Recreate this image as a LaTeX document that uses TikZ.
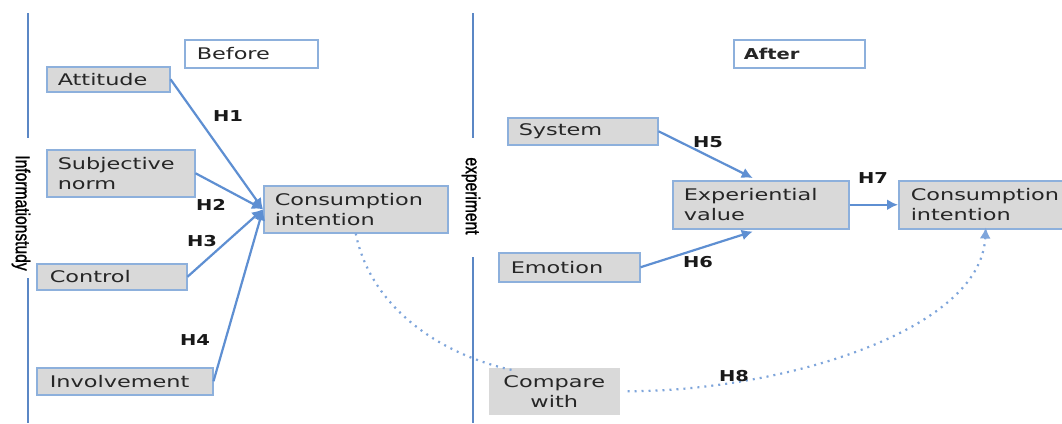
\documentclass[tikz,border=0pt]{standalone}
\usepackage{fontspec}
\setmainfont[FakeStretch=1.4]{DejaVu Sans}
\newfontfamily\lblfamily[FakeStretch=1.3]{DejaVu Sans}
\newfontfamily\narrowfamily[FakeStretch=0.78,FakeBold=1.2]{Liberation Sans}
\usetikzlibrary{arrows.meta}
\definecolor{boxfill}{HTML}{D9D9D9}
\definecolor{boxedge}{HTML}{8DB0DC}
\definecolor{arrowblue}{HTML}{5E8FD2}
\definecolor{lineblue}{HTML}{5B87C5}
\tikzset{
  bx/.style={draw=boxedge, fill=boxfill, line width=1.5pt, anchor=north west,
    inner xsep=11pt, inner ysep=0pt, align=left, text=black!85,
    font=\fontsize{16}{20}\selectfont},
  wbx/.style={bx, fill=white},
  lbl/.style={font=\lblfamily\bfseries\fontsize{15}{18}\selectfont, text=black!90, inner sep=0pt},
  vtxt/.style={font=\narrowfamily\fontsize{20}{22}\selectfont, rotate=-90, inner sep=0pt},
  arr/.style={draw=arrowblue, line width=2.2pt, -{Latex[length=11pt,width=11pt]}},
  dot/.style={draw=arrowblue!80, line width=2.2pt, dash pattern=on 2pt off 5pt},
  sep/.style={draw=lineblue, line width=2.5pt},
}
\begin{document}
\begin{tikzpicture}[x=1pt,y=-1pt]
\useasboundingbox[fill=white] (0,0) rectangle (1062,423);
% separators
\draw[sep] (28,13) -- (28,138);
\draw[sep] (28,278) -- (28,423);
\draw[sep] (473,13) -- (473,138);
\draw[sep] (473,257) -- (473,423);
\node[vtxt] (info) at (21,213) {Informationstudy};
\node[vtxt] (expt) at (471,196) {experiment};
% left boxes
\node[wbx, inner xsep=12pt, text width=109pt, minimum height=28pt] (before) at (184,39) {Before};
\node[bx, text width=101pt, minimum height=25pt] (att) at (46,66) {Attitude};
\node[bx, text width=126pt, minimum height=47pt] (subj) at (46,149) {Subjective\\norm};
\node[bx, inner xsep=13pt, text width=124pt, minimum height=26pt] (ctrl) at (36,263) {Control};
\node[bx, inner xsep=13pt, text width=150pt, minimum height=27pt] (inv) at (36,367) {Involvement};
\node[bx, text width=162pt, minimum height=47pt] (cil) at (263,185) {Consumption\\intention};
% right boxes
\node[wbx, inner xsep=10pt, text width=111pt, minimum height=28pt, font=\lblfamily\bfseries\fontsize{15}{18}\selectfont] (after) at (733,39) {After};
\node[bx, text width=128pt, minimum height=27pt] (sys) at (507,117) {System};
\node[bx, inner xsep=12pt, text width=117pt, minimum height=29pt] (emo) at (498,252) {Emotion};
\node[bx, draw=none, inner xsep=10pt, text width=111pt, minimum height=47pt, align=center] (cmp) at (488,367) {Compare\\with};
\node[bx, text width=154pt, minimum height=48pt] (exv) at (672,180) {Experiential\\value};
\node[bx, inner xsep=12pt, text width=150pt, minimum height=48pt] (cir) at (898,180) {Consumption\\intention};
% arrows
\draw[arr] (att.east) -- (cil.west);
\draw[arr] (subj.east) -- (cil.west);
\draw[arr] (ctrl.east) -- (cil.west);
\draw[arr] (inv.east) -- (cil.west);
\draw[arr] (sys.east) -- ([xshift=-8pt,yshift=2pt]exv.north);
\draw[arr] (emo.east) -- ([xshift=-8pt,yshift=-2pt]exv.south);
\draw[arr] (exv.east) -- (cir.west);
\draw[dot] (cil.south) .. controls +(15,75) and +(-70,-15) .. ([xshift=24pt,yshift=-3pt]cmp.north west);
\draw[dot, -{Latex[length=11pt,width=11pt]}] ([xshift=7pt]cmp.east) .. controls +(150,0) and +(-5,105) .. ([yshift=2pt]cir.south);
% labels
\node[lbl] (h1) at (228,116) {H1};
\node[lbl] (h2) at (211,205) {H2};
\node[lbl] (h3) at (202,241) {H3};
\node[lbl] (h4) at (195,340) {H4};
\node[lbl] (h5) at (708,142) {H5};
\node[lbl] (h6) at (698,262) {H6};
\node[lbl] (h7) at (873,178) {H7};
\node[lbl] (h8) at (734,376) {H8};
\end{tikzpicture}
\end{document}
